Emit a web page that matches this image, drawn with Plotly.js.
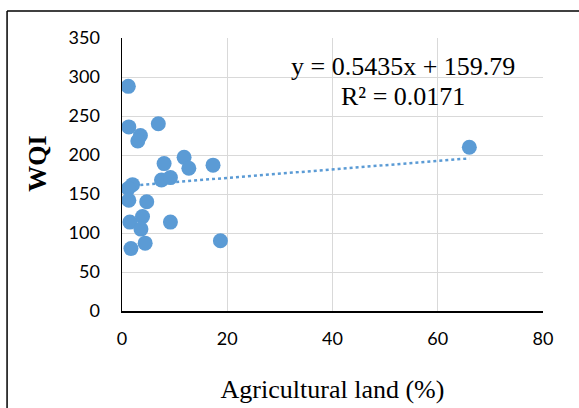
<!DOCTYPE html>
<html>
<head>
<meta charset="utf-8">
<script src="https://cdn.plot.ly/plotly-3.0.1.min.js"></script>
<style>html,body{margin:0;padding:0;background:#fff;}#chart{width:579px;height:408px;}</style>
</head>
<body>
<div id="chart"></div>
<script>
// Data
const agriculturalLand = [1.2, 1.3, 6.9, 3.5, 3.0, 8.0, 11.8, 12.7, 17.3, 2.0, 1.2, 7.5, 9.2, 1.3, 4.7, 1.5, 3.9, 3.6, 9.2, 1.7, 4.4, 18.7, 66.0];
const wqi = [288, 236, 240, 225, 218, 189, 197, 183, 187, 162, 157, 168, 171, 142, 140, 114, 121, 105, 114, 80, 87, 90, 210];
const trendSlope = [0.5435];
const trendIntercept = [159.79];
const equationLines = ["y = 0.5435x + 159.79", "R² = 0.0171"];
const xTicks = [0, 20, 40, 60, 80];
const yTicks = [0, 50, 100, 150, 200, 250, 300, 350];
const xTitle = 'Agricultural land (%)';
const yTitle = 'WQI';

const xMin = Math.min(...agriculturalLand);
const xMax = Math.max(...agriculturalLand);
const trendX = [xMin, xMax];
const trendY = trendX.map(v => trendSlope[0] * v + trendIntercept[0]);

const blue = '#5b9bd5';
const serif = '"Liberation Serif", "Times New Roman", serif';
const sans = 'Lato, "Liberation Sans", sans-serif';

const traces = [
  {
    x: trendX, y: trendY, type: 'scatter', mode: 'lines',
    line: {color: blue, width: 2.5, dash: 'dot'},
    hoverinfo: 'skip', showlegend: false
  },
  {
    x: agriculturalLand, y: wqi, type: 'scatter', mode: 'markers',
    marker: {color: blue, size: 15, line: {width: 0}},
    showlegend: false
  }
];

const layout = {
  width: 579, height: 408,
  margin: {l: 122, r: 36, t: 38, b: 97},
  paper_bgcolor: '#ffffff', plot_bgcolor: '#ffffff',
  showlegend: false,
  font: {family: sans, size: 18, color: '#000'},
  xaxis: {
    range: [0, 80], tickvals: xTicks, ticktext: xTicks.map(String),
    showgrid: true, gridcolor: '#d9d9d9', gridwidth: 1,
    zeroline: false, showline: true, linecolor: '#000', linewidth: 1.5,
    ticks: '', ticklabelstandoff: 11,
    tickfont: {family: sans, size: 18, color: '#000'},
    title: {text: xTitle, standoff: 31, font: {family: serif, size: 26, color: '#000'}},
    fixedrange: true
  },
  yaxis: {
    range: [0, 350], tickvals: yTicks, ticktext: yTicks.map(String),
    showgrid: true, gridcolor: '#d9d9d9', gridwidth: 1,
    zeroline: false, showline: true, linecolor: '#000', linewidth: 1.5,
    ticks: '', ticklabelstandoff: 17,
    tickfont: {family: sans, size: 18, color: '#000'},
    fixedrange: true
  },
  annotations: [
    {
      x: 53.4, y: 314, xref: 'x', yref: 'y',
      text: equationLines[0], showarrow: false,
      xanchor: 'center', yanchor: 'middle',
      font: {family: serif, size: 26, color: '#000'}
    },
    {
      x: 53.4, y: 275, xref: 'x', yref: 'y',
      text: equationLines[1], showarrow: false,
      xanchor: 'center', yanchor: 'middle',
      font: {family: serif, size: 26, color: '#000'}
    },
    {
      x: -0.2026, y: 0.538, xref: 'paper', yref: 'paper',
      text: '<b>' + yTitle + '</b>', showarrow: false, textangle: -90,
      xanchor: 'center', yanchor: 'middle',
      font: {family: serif, size: 26, color: '#000'}
    }
  ],
  shapes: [
    {type: 'line', xref: 'paper', yref: 'paper', x0: -0.273, x1: -0.273, y0: -0.40, y1: 1.099,
     line: {color: '#000', width: 1.5}},
    {type: 'line', xref: 'paper', yref: 'paper', x0: -0.273, x1: 1.2, y0: 1.099, y1: 1.099,
     line: {color: '#000', width: 1.5}}
  ]
};

Plotly.newPlot('chart', traces, layout, {displayModeBar: false, staticPlot: true});
</script>
</body>
</html>
